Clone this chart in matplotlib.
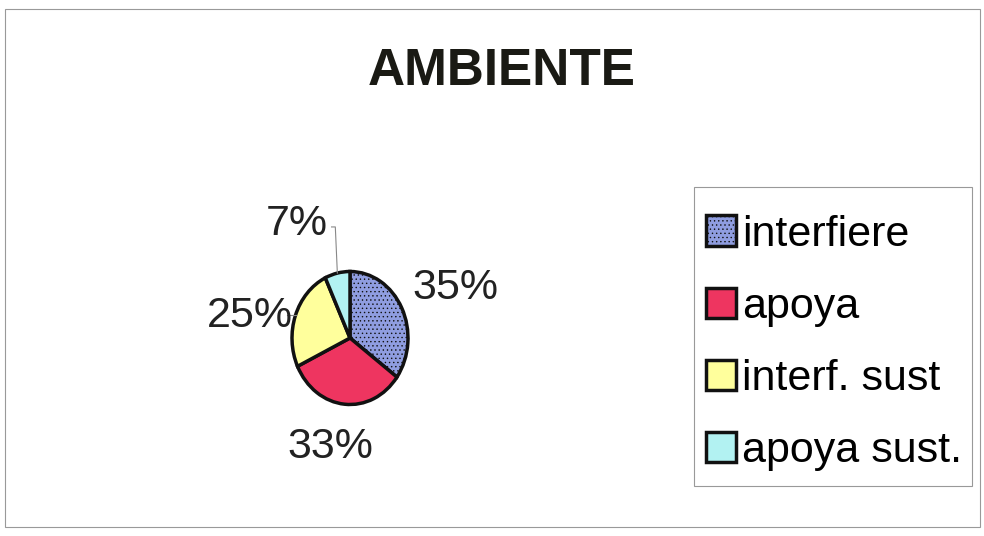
import numpy as np
import matplotlib.pyplot as plt
from matplotlib.patches import Rectangle

plt.rcParams['font.family'] = ['Liberation Sans', 'DejaVu Sans']
plt.rcParams['hatch.color'] = '#7080c8'
plt.rcParams['hatch.linewidth'] = 0.5

# data
categories = ['interfiere', 'apoya', 'interf. sust', 'apoya sust.']
values = [35, 33, 25, 7]
pct_labels = ['35%', '33%', '25%', '7%']
colors = ['#8f9de0', '#ee3560', '#ffff9c', '#b2f2f2']

fig = plt.figure(figsize=(9.84, 5.36), dpi=100)
fig.patch.set_facecolor('white')

# outer frame
fig.add_artist(Rectangle((5 / 984, 9 / 536), 975 / 984, 518 / 536,
                         transform=fig.transFigure, fill=False,
                         edgecolor='#999999', linewidth=0.8))

fig.text(0.51, 0.866, 'AMBIENTE', ha='center', va='center',
         fontsize=37, fontweight='bold', color='#1a1a14')

# pie axes (elliptic pie, like the original)
ax = fig.add_axes([200 / 984, 48 / 536, 300 / 984, 300 / 536])
wedges, _ = ax.pie(values, colors=colors, startangle=90, counterclock=False,
                   wedgeprops=dict(edgecolor='#111111', linewidth=2.5))
wedges[0].set_hatch('....')
ax.set_aspect('auto')
ax.set_xlim(-150 / 58, 150 / 58)
ax.set_ylim(-150 / 66.5, 150 / 66.5)
ax.axis('off')

# label placement (angle shift in degrees, radius)
shift = [-4.5, -6.5, 9, 15.5]
radius = [1.96, 1.68, 1.75, 1.94]
for w, lab, s, r in zip(wedges, pct_labels, shift, radius):
    mid = np.deg2rad((w.theta1 + w.theta2) / 2 + s)
    ax.text(r * np.cos(mid), r * np.sin(mid), lab, ha='center', va='center',
            fontsize=31, color='#222222')

# leader lines
w7 = wedges[3]
a7 = np.deg2rad((w7.theta1 + w7.theta2) / 2)
ex, ey = np.cos(a7), np.sin(a7)
ax.plot([ex, ex - 0.035, ex - 0.10], [ey, 1.67, 1.67], color='#888888', lw=0.8)
ax.plot([-np.sqrt(1 - 0.346 ** 2), -1.09], [0.346, 0.346], color='#888888', lw=0.8)

# legend box drawn separately (tighter sides than top/bottom)
fig.add_artist(Rectangle((694 / 984, 50 / 536), 278 / 984, 299 / 536,
                         transform=fig.transFigure, fill=False,
                         edgecolor='#999999', linewidth=0.8))
leg = fig.legend(wedges, categories, loc='center',
                 bbox_to_anchor=(834 / 984, 193 / 536),
                 fontsize=31, frameon=False,
                 handlelength=0.7, handleheight=0.7, handletextpad=0.12,
                 labelspacing=0.75, borderpad=0, borderaxespad=0)
for h in leg.legend_handles:
    h.set_linewidth(2.5)

fig.savefig('out.png', dpi=100)
